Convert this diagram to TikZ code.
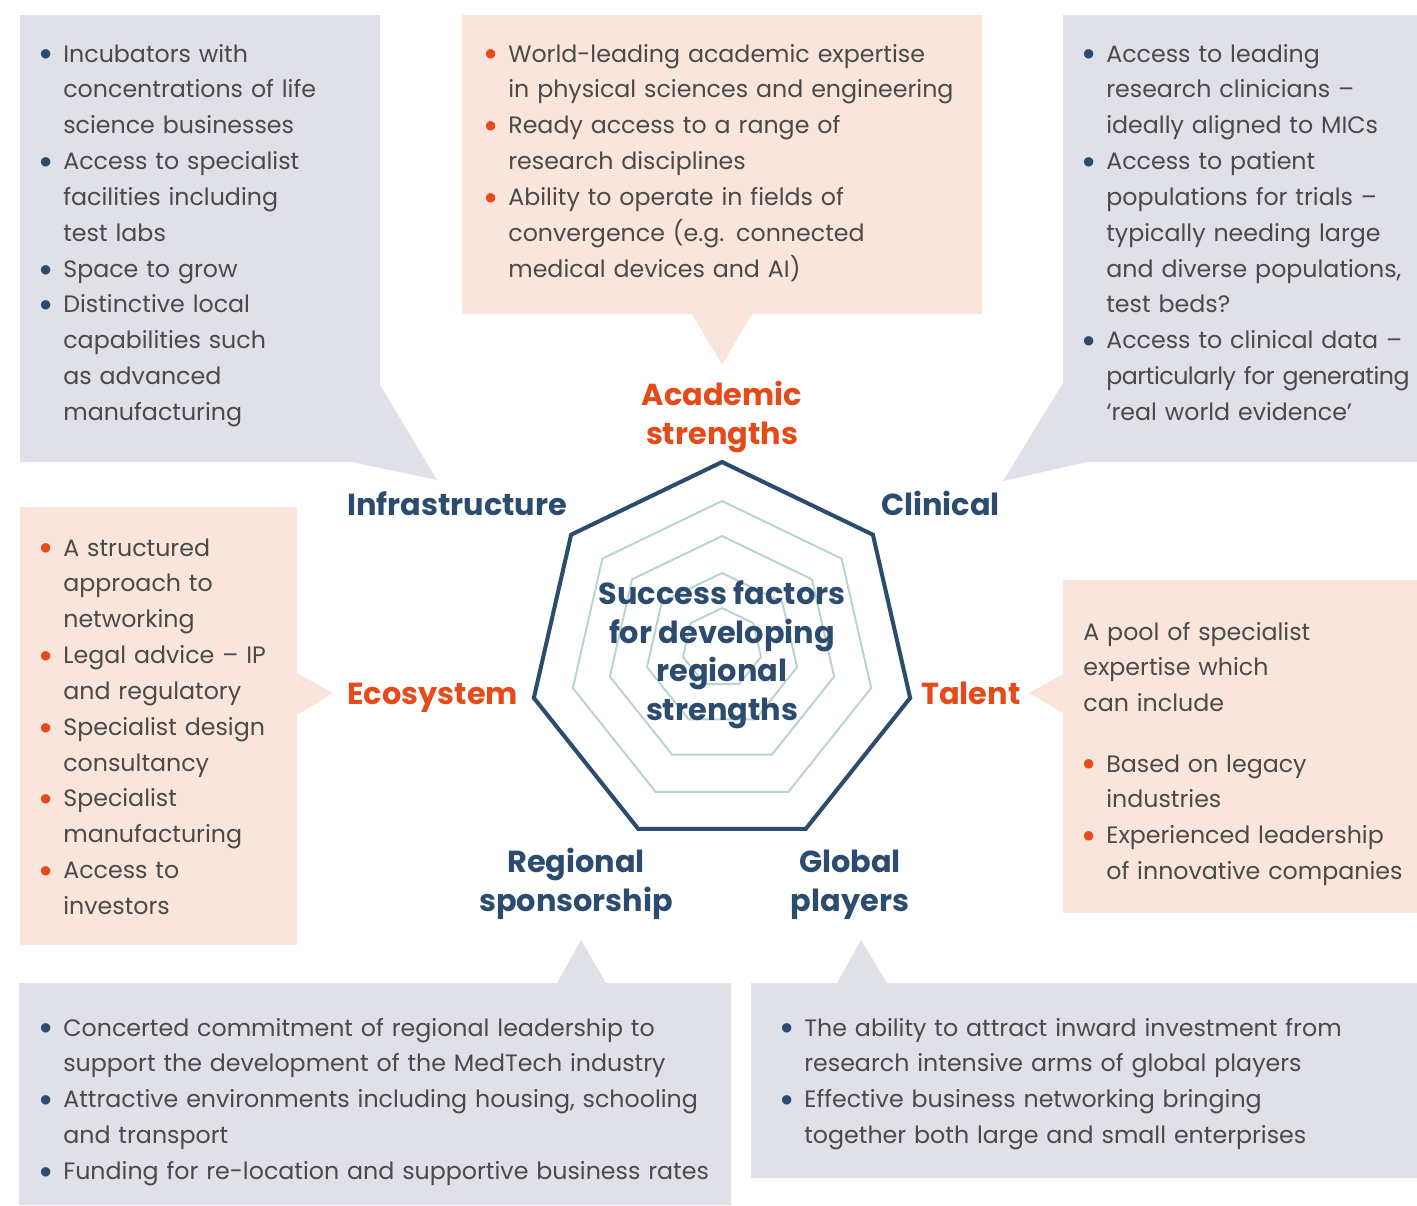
\documentclass[tikz,border=0pt]{standalone}
\usepackage{fontspec}
\setmainfont{Poppins}
\newfontfamily\dotfont{DejaVu Sans}
\usetikzlibrary{positioning}
\definecolor{navy}{HTML}{2B4C6F}
\definecolor{flame}{HTML}{E64A19}
\definecolor{greyfill}{HTML}{DFE0E8}
\definecolor{pinkfill}{HTML}{FAE5DC}
\definecolor{sage}{HTML}{B7D4CB}
\definecolor{bodytext}{HTML}{4A4A4A}
\newcommand{\bitem}[1]{\noindent\hangindent=0.46cm\hangafter=1%
	\makebox[0.46cm][l]{\raisebox{2.3pt}{\textcolor{#1}{\dotfont\fontsize{7}{7}\selectfont ●}}}}
\newcommand{\nl}{\hfil\break}
\tikzset{%
	greybox/.style={fill=greyfill},
	pinkbox/.style={fill=pinkfill},
	list/.style={anchor=base west, inner sep=0mm, text width=#1, text=bodytext,%
		font=\fontsize{13.5}{20.4}\selectfont},
	factor/.style={anchor=base, inner sep=0mm, align=center,%
		font=\bfseries\fontsize{17.3}{22.1}\selectfont},
	hept/.style={draw=navy, line width=2.3pt, line join=miter},
	ring/.style={draw=sage, line width=1.1pt}
}
\begin{document}
\begin{tikzpicture}[x=0.02cm, y=-0.02cm]
	\useasboundingbox (0,0) rectangle (1417,1205);
	
	% callout boxes
	\fill[greybox] (20,15) -- (380,15) -- (380,385) -- (437,480) -- (352,462) -- (20,462) -- cycle;
	\fill[pinkbox] (462,15) -- (982,15) -- (982,314) -- (752,314) -- (722,365) -- (692,314) -- (462,314) -- cycle;
	\fill[greybox] (1063,15) -- (1417,15) -- (1417,462) -- (1087,462) -- (1003,481) -- (1063,383) -- cycle;
	\fill[pinkbox] (20,507) -- (297,507) -- (297,673) -- (333,693) -- (297,715) -- (297,945) -- (20,945) -- cycle;
	\fill[pinkbox] (1063,580) -- (1417,580) -- (1417,913) -- (1063,913) -- (1063,713) -- (1029,693) -- (1063,674) -- cycle;
	\fill[greybox] (19,983) -- (557,983) -- (581,940) -- (606,983) -- (731,983) -- (731,1205) -- (19,1205) -- cycle;
	\fill[greybox] (751,983) -- (837,983) -- (861,940) -- (887,983) -- (1417,983) -- (1417,1178) -- (751,1178) -- cycle;
	
	% heptagon
	\foreach \r/\cy in {40/648, 77/650, 115/651, 153/654}
		\draw[ring, shift={(722,\cy)}] (-90:\r) \foreach \k in {1,...,6}{ -- (-90+\k*360/7:\r)} -- cycle;
	\draw[hept, shift={(722,655)}] (-90:193) \foreach \k in {1,...,6}{ -- (-90+\k*360/7:193)} -- cycle;
	
	\node[factor, text=navy, font=\bfseries\fontsize{17.3}{21.9}\selectfont] (core) at (722,720)
		{Success factors\\for developing\\regional\\strengths};
	\node[factor, text=flame] (acad) at (722,444) {Academic\\strengths};
	\node[factor, text=navy, anchor=base west] (infra) at (347,515) {Infrastructure};
	\node[factor, text=navy, anchor=base west] (clin) at (881,515) {Clinical};
	\node[factor, text=flame, anchor=base west] (eco) at (347,704) {Ecosystem};
	\node[factor, text=flame, anchor=base west] (talent) at (921,704) {Talent};
	\node[factor, text=navy] (region) at (576,911) {Regional\\sponsorship};
	\node[factor, text=navy] (global) at (850,911) {Global\\players};
	
	% lists
	\node[list=8cm] (infralist) at (40,62) {%
		\bitem{navy}Incubators with\nl concentrations of life\nl science businesses\par
		\bitem{navy}Access to specialist\nl facilities including\nl test labs\par
		\bitem{navy}Space to grow\par
		\bitem{navy}Distinctive local\nl capabilities such\nl as advanced\nl manufacturing\par};
	\node[list=10cm] (acadlist) at (485,62) {%
		\bitem{flame}World-leading academic expertise\nl in physical sciences and engineering\par
		\bitem{flame}Ready access to a range of\nl research disciplines\par
		\bitem{flame}Ability to operate in fields of\nl convergence (e.g. connected\nl medical devices and AI)\par};
	\node[list=8cm] (clinlist) at (1083,62) {%
		\bitem{navy}Access to leading\nl research clinicians –\nl ideally aligned to MICs\par
		\bitem{navy}Access to patient\nl populations for trials –\nl typically needing large\nl and diverse populations,\nl test beds?\par
		\bitem{navy}Access to clinical data –\nl {\addfontfeatures{LetterSpace=-2}particularly for generating}\nl ‘real world evidence’\par};
	\node[list=6cm] (ecolist) at (40,556) {%
		\bitem{flame}A structured\nl approach to\nl networking\par
		\bitem{flame}Legal advice – IP\nl and regulatory\par
		\bitem{flame}Specialist design\nl consultancy\par
		\bitem{flame}Specialist\nl manufacturing\par
		\bitem{flame}Access to\nl investors\par};
	\node[list=8cm] (talentintro) at (1083,640) {%
		A pool of specialist\nl expertise which\nl can include\par};
	\node[list=8cm] (talentlist) at (1083,772) {%
		\bitem{flame}Based on legacy\nl industries\par
		\bitem{flame}Experienced leadership\nl of innovative companies\par};
	\node[list=14cm] (regionlist) at (40,1036) {%
		\bitem{navy}Concerted commitment of regional leadership to\nl support the development of the MedTech industry\par
		\bitem{navy}Attractive environments including housing, schooling\nl and transport\par
		\bitem{navy}Funding for re-location and supportive business rates\par};
	\node[list=13cm] (globallist) at (781,1036) {%
		\bitem{navy}The ability to attract inward investment from\nl research intensive arms of global players\par
		\bitem{navy}Effective business networking bringing\nl together both large and small enterprises\par};
\end{tikzpicture}
\end{document}
